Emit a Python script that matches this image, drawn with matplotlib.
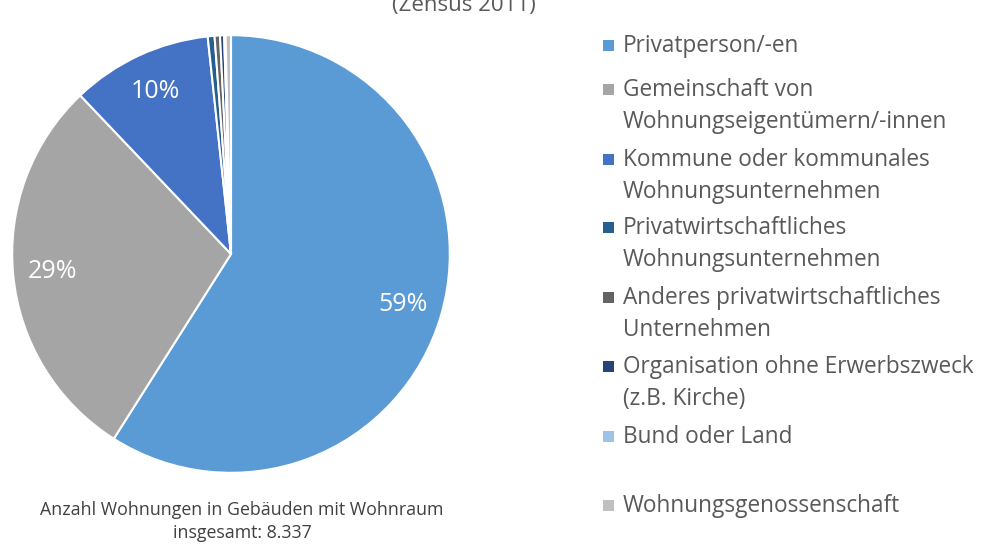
import matplotlib.pyplot as plt
from matplotlib.patches import Rectangle

kategorien = [
    "Privatperson/-en",
    "Gemeinschaft von\nWohnungseigentümern/-innen",
    "Kommune oder kommunales\nWohnungsunternehmen",
    "Privatwirtschaftliches\nWohnungsunternehmen",
    "Anderes privatwirtschaftliches\nUnternehmen",
    "Organisation ohne Erwerbszweck\n(z.B. Kirche)",
    "Bund oder Land",
    "Wohnungsgenossenschaft",
]
anteile = [59.0, 28.9, 10.4, 0.5, 0.4, 0.3, 0.1, 0.4]
farben = ["#5b9bd5", "#a5a5a5", "#4472c4", "#255e91",
          "#636363", "#264478", "#9dc3e6", "#c0c0c0"]

plt.rcParams['font.family'] = ['Open Sans', 'DejaVu Sans']

W, H = 981, 544
fig = plt.figure(figsize=(W / 100, H / 100), dpi=100)

# Kreisdiagramm
cx, cy, r = 231, 254, 221
ax = fig.add_axes([(cx - r) / W, (H - cy - r) / H, 2 * r / W, 2 * r / H])


def pct(p):
    return f"{p:.0f}%" if p >= 5 else ""


wedges, texte, autotexte = ax.pie(
    anteile, colors=farben, startangle=90, counterclock=False,
    autopct=pct, pctdistance=0.82,
    wedgeprops=dict(edgecolor="white", linewidth=1.5),
    textprops=dict(color="white", fontsize=18))
ax.set_xlim(-1.01, 1.01)
ax.set_ylim(-1.01, 1.01)
ax.set_aspect("equal")
ax.axis("off")

# Titel (oben abgeschnitten wie im Original)
fig.text(464 / W, 1 - 6 / H, "(Zensus 2011)", ha="center", va="center",
         fontsize=16, color="#595959")

# Fußnote
fig.text(242 / W, 1 - 510 / H, "Anzahl Wohnungen in Gebäuden mit Wohnraum",
         ha="center", va="center", fontsize=12.8, color="#404040")
fig.text(242 / W, 1 - 533 / H, "insgesamt: 8.337",
         ha="center", va="center", fontsize=12.8, color="#404040")

# Legende
legende_y = [46, 90, 160, 228, 298, 367, 437, 506]
zeilenabstand = 32
for label, farbe, y in zip(kategorien, farben, legende_y):
    fig.add_artist(Rectangle((603 / W, 1 - (y + 5) / H), 11 / W, 11 / H,
                             transform=fig.transFigure, facecolor=farbe,
                             edgecolor="none"))
    for i, zeile in enumerate(label.split("\n")):
        fig.text(623 / W, 1 - (y + i * zeilenabstand) / H, zeile,
                 ha="left", va="center", fontsize=16.3, color="#595959")

fig.savefig("out.png", dpi=100)
